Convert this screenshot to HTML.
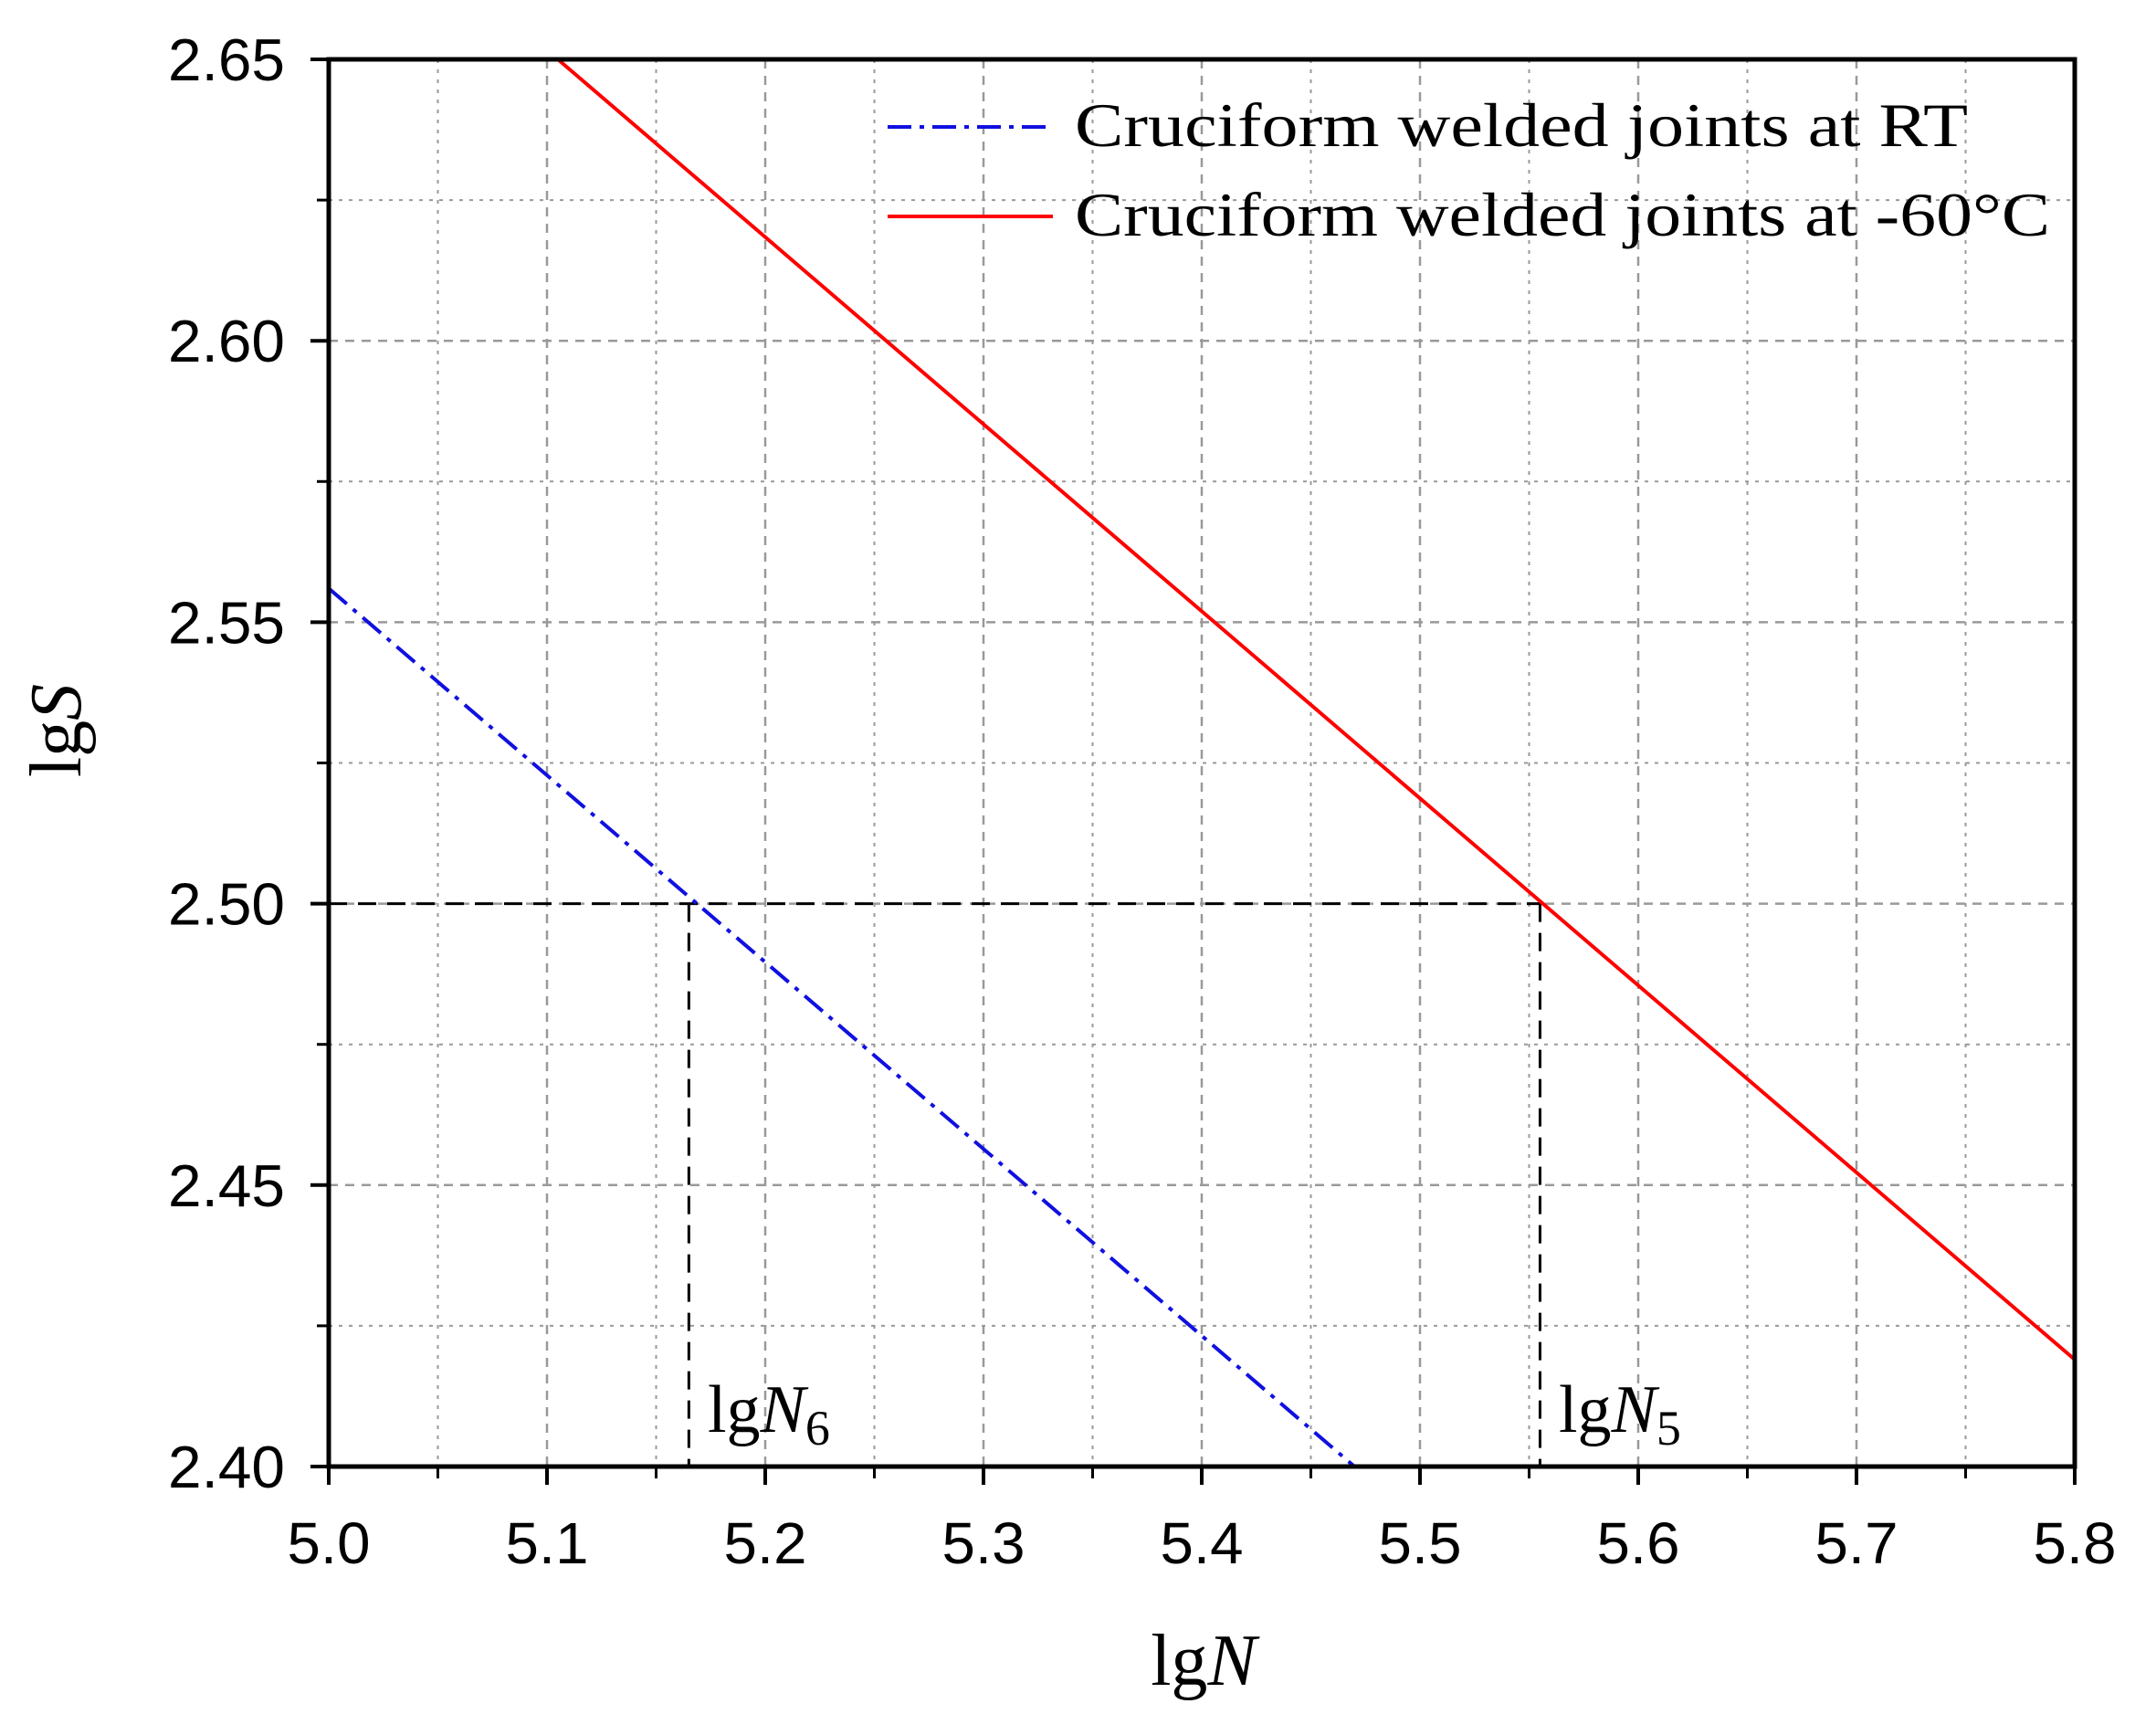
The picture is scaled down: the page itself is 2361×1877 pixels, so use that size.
<!DOCTYPE html>
<html><head><meta charset="utf-8"><style>html,body{margin:0;padding:0;background:#fff}svg{display:block}</style></head>
<body>
<svg id="chart" width="2361" height="1877" viewBox="0 0 2361 1877" xmlns="http://www.w3.org/2000/svg"></svg>
<script>
const xTicks = [5.0, 5.1, 5.2, 5.3, 5.4, 5.5, 5.6, 5.7, 5.8];
const xTickLabels = ["5.0","5.1","5.2","5.3","5.4","5.5","5.6","5.7","5.8"];
const yTicks = [2.40, 2.45, 2.50, 2.55, 2.60, 2.65];
const yTickLabels = ["2.40","2.45","2.50","2.55","2.60","2.65"];
const rtX = [5.0, 5.47];
const rtY = [2.556, 2.40];
const coldX = [5.105, 5.8];
const coldY = [2.65, 2.419];
const refS = 2.50;
const refN6 = 5.165;
const refN5 = 5.555;

const L=360, R=2272, T=65, B=1606;
const xMin=5.0, xMax=5.8, yMin=2.40, yMax=2.65;
const sx = v => L + (v-xMin)/(xMax-xMin)*(R-L);
const sy = v => B - (v-yMin)/(yMax-yMin)*(B-T);
const svg = document.getElementById('chart');
const NS='http://www.w3.org/2000/svg';
function mk(tag, attrs, parent){const e=document.createElementNS(NS,tag);for(const k in attrs)e.setAttribute(k,attrs[k]);(parent||svg).appendChild(e);return e;}

const grid = mk('g',{});


for(let i=0;i<xTicks.length*2-1;i++){
  const v = xMin + i*0.05;
  const x = sx(v);
  if(x<=L+1||x>=R-1) continue;
  const major = i%2===0;
  const ln = mk('line',{x1:x,x2:x,y1:T,y2:B,stroke:'#999','stroke-width':major?2.5:2,'stroke-dasharray':major?'10,8':'4,7'},grid);
  
  
}
for(let i=0;i<yTicks.length*2-1;i++){
  const v = yMin + i*0.025;
  const y = sy(v);
  if(y<=T+1||y>=B-1) continue;
  const major = i%2===0;
  const ln = mk('line',{x1:L,x2:R,y1:y,y2:y,stroke:'#999','stroke-width':major?2.5:2,'stroke-dasharray':major?'10,8':'4,7'},grid);
  
  
}

const ref = mk('g',{stroke:'#000','stroke-width':3,'stroke-dasharray':'20,12',fill:'none'});


mk('line',{x1:sx(xMin),x2:sx(refN5),y1:sy(refS),y2:sy(refS)},ref);
mk('line',{x1:sx(refN6),x2:sx(refN6),y1:sy(refS),y2:B},ref);
mk('line',{x1:sx(refN5),x2:sx(refN5),y1:sy(refS),y2:B},ref);

const rt = mk('polyline',{points:rtX.map((v,i)=>sx(v)+','+sy(rtY[i])).join(' '),stroke:'#1010e0','stroke-width':4,fill:'none','stroke-dasharray':'26,9,5,9'});


const cold = mk('polyline',{points:coldX.map((v,i)=>sx(v)+','+sy(coldY[i])).join(' '),stroke:'#ff0000','stroke-width':4,fill:'none'});



const frame = mk('rect',{x:L,y:T,width:R-L,height:B-T,fill:'none',stroke:'#000','stroke-width':5});



for(let i=0;i<xTicks.length;i++){
  const x=sx(xTicks[i]);
  mk('line',{x1:x,x2:x,y1:B,y2:B+20,stroke:'#000','stroke-width':4});
  if(i<xTicks.length-1){const xm=sx(xTicks[i]+0.05);mk('line',{x1:xm,x2:xm,y1:B,y2:B+13,stroke:'#000','stroke-width':3});}
  const t=mk('text',{x:x,y:1712,'text-anchor':'middle','font-family':'Liberation Sans, sans-serif','font-size':64,textLength:91,lengthAdjust:'spacingAndGlyphs'});
  t.textContent=xTickLabels[i];
  
  
}
for(let i=0;i<yTicks.length;i++){
  const y=sy(yTicks[i]);
  mk('line',{x1:L-20,x2:L,y1:y,y2:y,stroke:'#000','stroke-width':4});
  if(i<yTicks.length-1){const ym=sy(yTicks[i]+0.025);mk('line',{x1:L-13,x2:L,y1:ym,y2:ym,stroke:'#000','stroke-width':3});}
  const t=mk('text',{x:312,y:y+23,'text-anchor':'end','font-family':'Liberation Sans, sans-serif','font-size':65,textLength:128,lengthAdjust:'spacingAndGlyphs'});
  t.textContent=yTickLabels[i];
  
  
}
</script>
<svg style="position:absolute;left:0;top:0" width="2361" height="1877">
  <g font-family="Liberation Serif, serif" fill="#000">
    <text x="1318" y="1845" font-size="80" text-anchor="middle">lg<tspan font-style="italic">N</tspan></text>
    <text x="0" y="0" font-size="80" text-anchor="middle" transform="translate(88,800) rotate(-90)">lg<tspan font-style="italic">S</tspan></text>
    <text x="775" y="1568" font-size="74">lg<tspan font-style="italic">N</tspan><tspan font-size="54" dy="14">6</tspan></text>
    <text x="1707" y="1568" font-size="74">lg<tspan font-style="italic">N</tspan><tspan font-size="54" dy="14">5</tspan></text>
    <g>
      <line x1="972" y1="139" x2="1153" y2="139" stroke="#1010e0" stroke-width="4" stroke-dasharray="26,9,5,9"/>
      <text x="1177" y="160" font-size="68" textLength="978" lengthAdjust="spacingAndGlyphs">Cruciform welded joints at RT</text>
      <line x1="972" y1="237" x2="1153" y2="237" stroke="#ff0000" stroke-width="4"/>
      <text x="1177" y="258" font-size="68" textLength="1068" lengthAdjust="spacingAndGlyphs">Cruciform welded joints at -60°C</text>
    </g>
  </g>
</svg>
</body></html>
